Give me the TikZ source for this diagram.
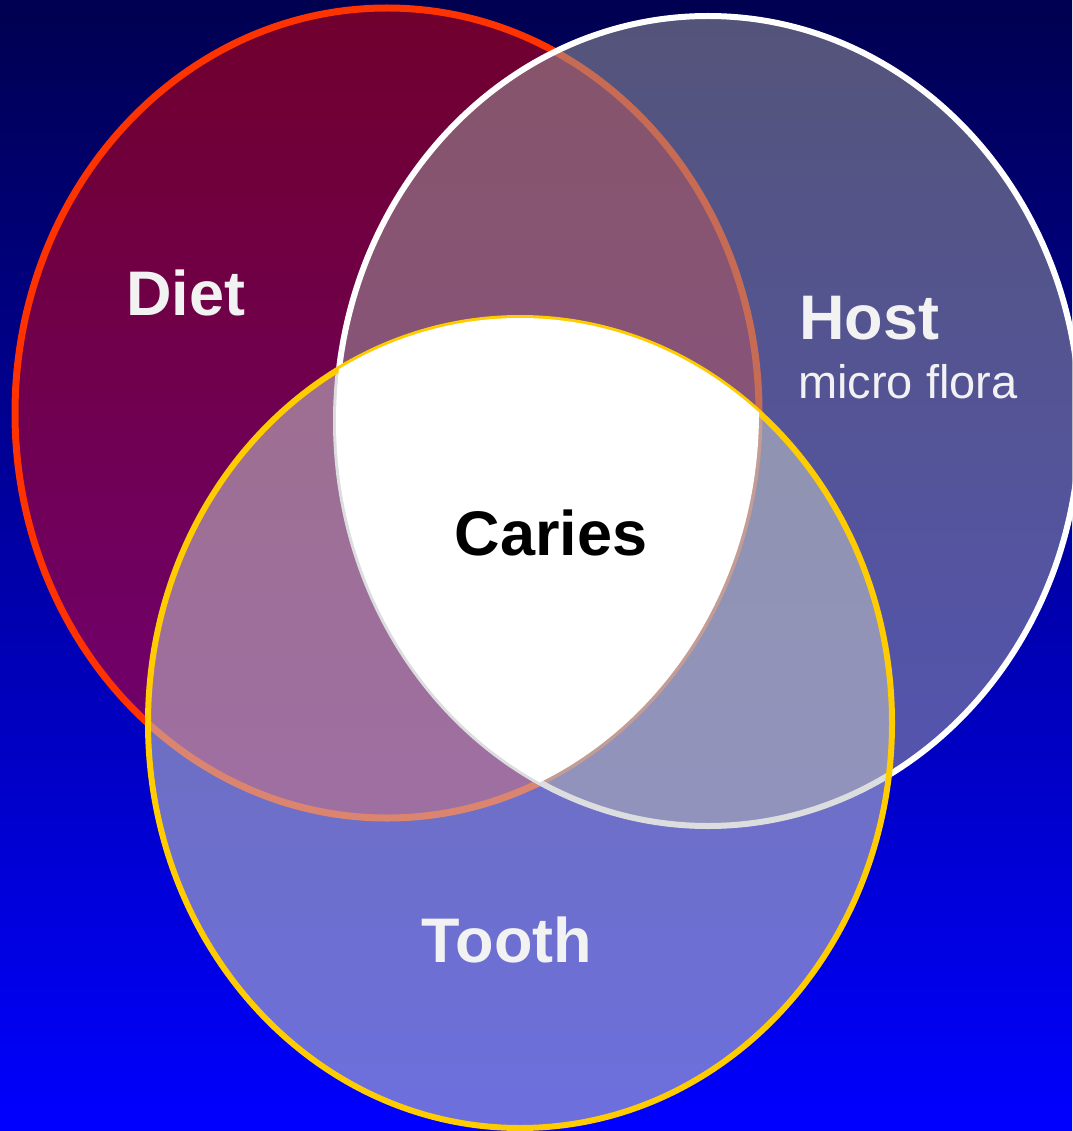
\documentclass[tikz,border=0pt]{standalone}
\usepackage{fontspec}
\setmainfont{Liberation Sans}
\definecolor{bgtop}{RGB}{0,0,80}
\definecolor{bgbot}{RGB}{0,0,255}
\definecolor{dietfill}{RGB}{255,0,0}
\definecolor{dietline}{RGB}{255,51,0}
\definecolor{hostfill}{RGB}{154,154,156}
\definecolor{toothfill}{RGB}{193,196,198}
\definecolor{toothline}{RGB}{255,204,0}
\definecolor{labelcol}{RGB}{242,242,242}
\tikzset{
  setshape/.style={x radius=372pt, y radius=405pt},
  biglabel/.style={text=labelcol, font=\fontsize{63}{70}\selectfont\bfseries, inner sep=0pt},
  smalllabel/.style={text=labelcol, font=\fontsize{47}{54}\selectfont, inner sep=0pt},
  centrelabel/.style={text=black, font=\fontsize{63}{70}\selectfont\bfseries, inner sep=0pt}
}
\begin{document}
\begin{tikzpicture}[x=1pt,y=-1pt]
\shade[top color=bgtop, bottom color=bgbot] (0,0) rectangle (1072,1131);
\useasboundingbox (0,0) rectangle (1072,1131);
% Diet
\fill[dietfill, fill opacity=0.44] (387,413) ellipse [setshape];
\draw[dietline, line width=7pt] (387,413) ellipse [setshape];
% Host
\fill[hostfill, fill opacity=0.55] (708,421) ellipse [setshape];
\draw[white, line width=6pt] (708,421) ellipse [setshape];
% Tooth
\fill[toothfill, fill opacity=0.57] (520,723) ellipse [setshape];
\draw[toothline, line width=6pt] (520,723) ellipse [setshape];
% Caries (intersection)
\begin{scope}
  \clip (387,413) ellipse [setshape];
  \clip (708,421) ellipse [setshape];
  \fill[white] (520,723) ellipse [setshape];
\end{scope}
% Labels
\node[biglabel, anchor=base] (diet) at (186,315) {Diet};
\node[biglabel, anchor=base west] (host) at (799,339) {Host};
\node[smalllabel, anchor=base west] (flora) at (798,398) {micro flora};
\node[centrelabel, anchor=base] (caries) at (551,555) {Caries};
\node[biglabel, anchor=base] (tooth) at (507,962) {Tooth};
\end{tikzpicture}
\end{document}
